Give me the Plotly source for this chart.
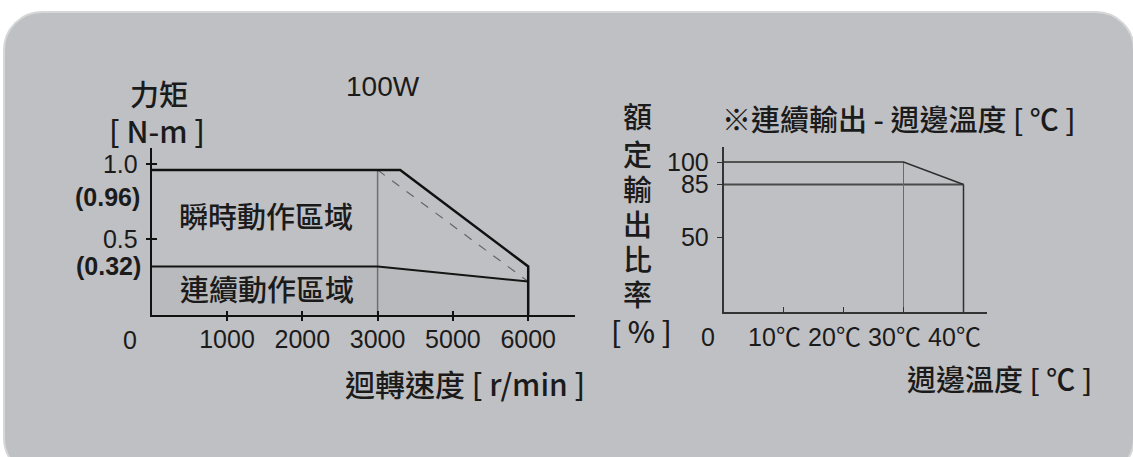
import numpy as np
import plotly.graph_objects as go

W, H = 1133, 457

# ---------------- torque / speed curve (100W) ----------------
speed_scale_rpm = [0, 1000, 2000, 3000, 5000, 6000]      # axis break points
speed_tick_rpm = [1000, 2000, 3000, 5000, 6000]
speed_tick_labels = ["1000", "2000", "3000", "5000", "6000"]
peak_speed = [0, 3600, 6000, 6000]
peak_torque = [0.96, 0.96, 0.32, 0.0]
cont_speed = [0, 3000, 6000]
cont_torque = [0.32, 0.32, 0.22]
rated_speed = 3000
max_speed = 6000
torque_ticks = [0.5, 1.0]
torque_tick_labels = ["0.5", "1.0"]
peak_torque_label = 0.96
cont_torque_label = 0.32

# ---------------- rated output ratio / ambient temperature ----------------
temp = [0, 30, 40]
ratio = [100, 100, 85]
derate_start = 30
derate_end = 40
derated_ratio = 85
temp_ticks = [10, 20, 30, 40]
temp_tick_labels = ["10℃", "20℃", "30℃", "40℃"]
ratio_ticks = [50, 85, 100]
ratio_tick_labels = ["50", "85", "100"]


def spos(rpm):
    """Speed axis is piecewise linear between its labelled break points."""
    return np.interp(rpm, speed_scale_rpm, np.arange(len(speed_scale_rpm))).tolist()


def px(x, y):
    return x / W, 1 - y / H


INK = "#1b1b1b"
TICKF = "Liberation Sans, Arial, Noto Sans CJK TC, sans-serif"
CJK = "Noto Sans CJK TC Medium, Noto Sans CJK TC, Noto Sans CJK SC, sans-serif"
CARD = "#bfc0c3"


def cjk_celsius(label):
    # the degree sign is taken from the CJK face, as a full-width glyph
    return label.replace("℃", "<span style='font-family:Noto Sans CJK TC'>℃</span>")


fig = go.Figure()

# continuous operating region
cx = spos([0] + cont_speed + [max_speed])
cy = [0] + cont_torque + [0]
fig.add_trace(go.Scatter(x=cx, y=cy, fill="toself", fillcolor="#b9babd",
                         line=dict(width=0), mode="lines", hoverinfo="skip"))
# rated speed guide
fig.add_trace(go.Scatter(x=spos([rated_speed, rated_speed]), y=[0, peak_torque[0]],
                         mode="lines", line=dict(color="#707070", width=1.5)))
# dashed guide from rated point to max speed
fig.add_trace(go.Scatter(x=spos([rated_speed, max_speed]), y=[peak_torque[0], cont_torque[-1]],
                         mode="lines", line=dict(color="#666666", width=1.2, dash="dash")))
# continuous torque
fig.add_trace(go.Scatter(x=spos(cont_speed), y=cont_torque, mode="lines",
                         line=dict(color="#151515", width=2)))
# peak torque
fig.add_trace(go.Scatter(x=spos(peak_speed), y=peak_torque, mode="lines",
                         line=dict(color="#111111", width=2.5)))

# derating chart
fig.add_trace(go.Scatter(x=[0, derate_end], y=[derated_ratio, derated_ratio], mode="lines",
                         line=dict(color="#4a4a4a", width=2), xaxis="x2", yaxis="y2"))
fig.add_trace(go.Scatter(x=[derate_start, derate_start], y=[0, ratio[1]], mode="lines",
                         line=dict(color="#6a6a6a", width=1), xaxis="x2", yaxis="y2"))
fig.add_trace(go.Scatter(x=[derate_end, derate_end], y=[0, derated_ratio], mode="lines",
                         line=dict(color="#2e2e2e", width=1.5), xaxis="x2", yaxis="y2"))
fig.add_trace(go.Scatter(x=temp, y=ratio, mode="lines",
                         line=dict(color="#2e2e2e", width=1.5), xaxis="x2", yaxis="y2"))
# carrier for the inner tick marks of the torque chart
fig.add_trace(go.Scatter(x=[0], y=[0], mode="markers", marker=dict(opacity=0),
                         xaxis="x3", yaxis="y3", hoverinfo="skip"))

# axis placement (pixels)
L_X0, L_X1, L_Y0, L_Y1 = 151.7, 575.0, 314.7, 148.0
L_PX_PER_STEP, L_PX_PER_NM = 75.3, 150.7
R_X0, R_X1, R_Y0, R_Y1 = 723.5, 986.7, 312.0, 147.0
R_PX_PER_C, R_PX_PER_PCT = 6.0, 1.5

lx_dom = [L_X0 / W, L_X1 / W]
ly_dom = [1 - L_Y0 / H, 1 - L_Y1 / H]
lx_rng = [0, (L_X1 - L_X0) / L_PX_PER_STEP]
ly_rng = [0, (L_Y0 - L_Y1) / L_PX_PER_NM]
rx_dom = [R_X0 / W, R_X1 / W]
ry_dom = [1 - R_Y0 / H, 1 - R_Y1 / H]
rx_rng = [0, (R_X1 - R_X0) / R_PX_PER_C]
ry_rng = [0, (R_Y0 - R_Y1) / R_PX_PER_PCT]

tickfont = dict(family=TICKF, size=25, color=INK)
common = dict(showgrid=False, zeroline=False, fixedrange=True)

layout = dict(
    width=W, height=H, margin=dict(l=0, r=0, t=0, b=0),
    paper_bgcolor="white", plot_bgcolor="rgba(0,0,0,0)", showlegend=False,
    xaxis=dict(domain=lx_dom, range=lx_rng, anchor="y", tickvals=spos(speed_tick_rpm),
               ticktext=speed_tick_labels, ticks="outside", ticklen=4, tickwidth=2,
               tickcolor="#111", showline=True, linewidth=2, linecolor="#111",
               tickfont=tickfont, ticklabelstandoff=-3, **common),
    yaxis=dict(domain=ly_dom, range=ly_rng, anchor="x", tickvals=torque_ticks,
               ticktext=torque_tick_labels, ticks="outside", ticklen=4, tickwidth=1.5,
               tickcolor="#111", showline=True, linewidth=2, linecolor="#111",
               tickfont=tickfont, ticklabelstandoff=3, **common),
    xaxis3=dict(overlaying="x", anchor="y3", range=lx_rng, tickvals=spos(speed_tick_rpm),
                ticks="inside", ticklen=4, tickwidth=2, tickcolor="#111",
                showticklabels=False, showline=False, **common),
    yaxis3=dict(overlaying="y", anchor="x3", range=ly_rng, tickvals=torque_ticks,
                ticks="inside", ticklen=5, tickwidth=1.5, tickcolor="#111",
                showticklabels=False, showline=False, **common),
    xaxis2=dict(domain=rx_dom, range=rx_rng, anchor="y2", tickvals=temp_ticks,
                ticktext=[cjk_celsius(t) for t in temp_tick_labels], ticks="inside",
                ticklen=5, tickwidth=1.2, tickcolor="#333", showline=True, linewidth=1.5,
                linecolor="#333", tickfont=tickfont, ticklabelstandoff=2,
                ticklabelshift=-9, **common),
    yaxis2=dict(domain=ry_dom, range=ry_rng, anchor="x2", tickvals=ratio_ticks,
                ticktext=ratio_tick_labels, ticks="outside", ticklen=5, tickwidth=1.2,
                tickcolor="#333", showline=True, linewidth=1.5, linecolor="#333",
                tickfont=tickfont, ticklabelstandoff=3, **common),
)
fig.update_layout(**layout)


# rounded card behind everything
def card_path(x0, y0, x1, y1, r):
    k = 0.5523 * r
    pts = [
        ("M", [(x0, y0 + r)]),
        ("C", [(x0, y0 + r - k), (x0 + r - k, y0), (x0 + r, y0)]),
        ("L", [(x1 - r, y0)]),
        ("C", [(x1 - r + k, y0), (x1, y0 + r - k), (x1, y0 + r)]),
        ("L", [(x1, y1 - r)]),
        ("C", [(x1, y1 - r + k), (x1 - r + k, y1), (x1 - r, y1)]),
        ("L", [(x0 + r, y1)]),
        ("C", [(x0 + r - k, y1), (x0, y1 - r + k), (x0, y1 - r)]),
    ]
    out = []
    for cmd, ps in pts:
        coords = " ".join("%.5f,%.5f" % px(a, b) for a, b in ps)
        out.append(cmd + coords)
    return " ".join(out) + " Z"


fig.add_shape(type="path", path=card_path(4, 12, 1134, 476, 38), xref="paper", yref="paper",
              fillcolor=CARD, line=dict(color="#d6d7d9", width=2), layer="below")


def note(text, x, y, size=29, family=CJK, weight=500, **kw):
    fx, fy = px(x, y)
    fig.add_annotation(text=text, x=fx, y=fy, xref="paper", yref="paper", showarrow=False,
                       xanchor="center", yanchor="middle",
                       font=dict(family=family, size=size, color=INK, weight=weight), **kw)


# left chart texts
note("力矩", 159, 93)
note("[ N-m ]", 157, 130, size=30)
note("100W", 383, 86, size=28, family=TICKF, weight=400)
note("瞬時動作區域", 266, 215)
note("連續動作區域", 267, 288)
note("迴轉速度 [ r/min ]", 465, 383, size=30)

fig.add_annotation(text="<b>(%.2f)</b>" % peak_torque_label, x=142 / W, xref="paper",
                   xanchor="right", yanchor="middle", y=peak_torque_label, yref="y", yshift=-27,
                   showarrow=False, font=dict(family=TICKF, size=25, color=INK))
fig.add_annotation(text="<b>(%.2f)</b>" % cont_torque_label, x=143 / W, xref="paper",
                   xanchor="right", yanchor="middle", y=cont_torque_label, yref="y",
                   showarrow=False, font=dict(family=TICKF, size=25, color=INK))
fig.add_annotation(text="0", x=0, xref="x", xshift=-22, y=0, yref="y", yshift=-25,
                   xanchor="center", yanchor="middle", showarrow=False, font=tickfont)

# right chart texts
note("※連續輸出 - 週邊溫度 [ ℃ ]", 899, 118)
note("週邊溫度 [ ℃ ]", 999, 378)
for ch, yy in zip("額定輸出比率", [115, 153, 188, 223, 258, 293]):
    note(ch, 637, yy)
note("[ % ]", 641, 330)
fig.add_annotation(text="0", x=0, xref="x2", xshift=-15.5, y=0, yref="y2", yshift=-25,
                   xanchor="center", yanchor="middle", showarrow=False, font=tickfont)

fig.write_html("out.html")
